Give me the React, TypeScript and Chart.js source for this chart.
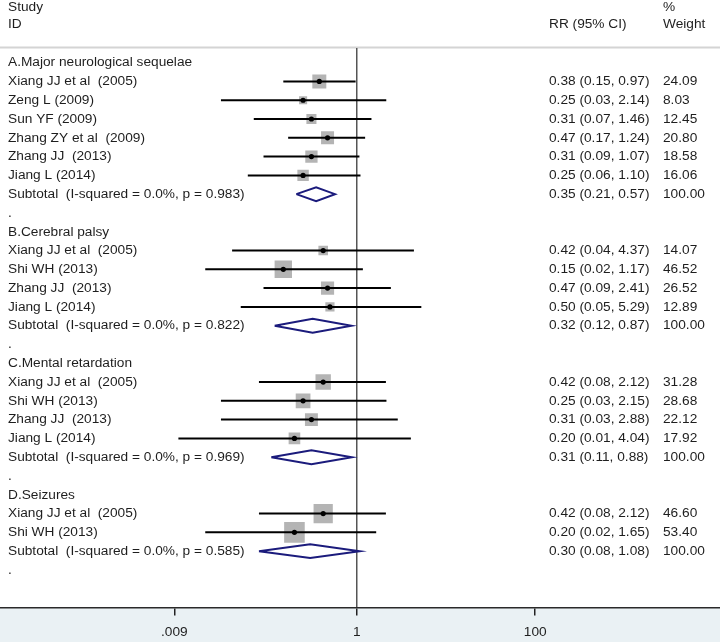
import React, { useEffect, useRef } from "react";
import { Chart, registerables } from "chart.js";
Chart.register(...registerables);

// ---------- data ----------
const rowLabels = [
  "A.Major neurological sequelae",
  "Xiang JJ et al  (2005)",
  "Zeng L (2009)",
  "Sun YF (2009)",
  "Zhang ZY et al  (2009)",
  "Zhang JJ  (2013)",
  "Jiang L (2014)",
  "Subtotal  (I-squared = 0.0%, p = 0.983)",
  ".",
  "B.Cerebral palsy",
  "Xiang JJ et al  (2005)",
  "Shi WH (2013)",
  "Zhang JJ  (2013)",
  "Jiang L (2014)",
  "Subtotal  (I-squared = 0.0%, p = 0.822)",
  ".",
  "C.Mental retardation",
  "Xiang JJ et al  (2005)",
  "Shi WH (2013)",
  "Zhang JJ  (2013)",
  "Jiang L (2014)",
  "Subtotal  (I-squared = 0.0%, p = 0.969)",
  ".",
  "D.Seizures",
  "Xiang JJ et al  (2005)",
  "Shi WH (2013)",
  "Subtotal  (I-squared = 0.0%, p = 0.585)",
  ".",
];

const rowKinds = [
  "group", "study", "study", "study", "study", "study", "study", "subtotal", "gap",
  "group", "study", "study", "study", "study", "subtotal", "gap",
  "group", "study", "study", "study", "study", "subtotal", "gap",
  "group", "study", "study", "subtotal", "gap",
];

const rrValues = [
  null, 0.38, 0.25, 0.31, 0.47, 0.31, 0.25, 0.35, null,
  null, 0.42, 0.15, 0.47, 0.5, 0.32, null,
  null, 0.42, 0.25, 0.31, 0.2, 0.31, null,
  null, 0.42, 0.2, 0.3, null,
];

const ciLower = [
  null, 0.15, 0.03, 0.07, 0.17, 0.09, 0.06, 0.21, null,
  null, 0.04, 0.02, 0.09, 0.05, 0.12, null,
  null, 0.08, 0.03, 0.03, 0.01, 0.11, null,
  null, 0.08, 0.02, 0.08, null,
];

const ciUpper = [
  null, 0.97, 2.14, 1.46, 1.24, 1.07, 1.1, 0.57, null,
  null, 4.37, 1.17, 2.41, 5.29, 0.87, null,
  null, 2.12, 2.15, 2.88, 4.04, 0.88, null,
  null, 2.12, 1.65, 1.08, null,
];

const weights = [
  null, 24.09, 8.03, 12.45, 20.8, 18.58, 16.06, 100.0, null,
  null, 14.07, 46.52, 26.52, 12.89, 100.0, null,
  null, 31.28, 28.68, 22.12, 17.92, 100.0, null,
  null, 46.6, 53.4, 100.0, null,
];

const axisTicks = [0.009, 1, 100];
const axisTickLabels = [".009", "1", "100"];

const headerStudy = ["Study", "ID"];
const headerRR = "RR (95% CI)";
const headerWeight = ["%", "Weight"];

// ---------- styles ----------
const FONT_FAMILY = '"Liberation Sans", Arial, sans-serif';
const FONT_SIZE = 13.7;
const FONT = `${FONT_SIZE}px ${FONT_FAMILY}`;
const TEXT_COLOR = "#1e1e1e";
const BOX_COLOR = "#b4b4b4";
const DIAMOND_COLOR = "#1b1b7c";
const BOX_SCALE_BY_GROUP = [2.85, 2.55, 2.75, 2.82];
const DIAMOND_HALF = 0.37; // in row units
const COL_LABEL_X = 8;
const COL_RR_X = 549;
const COL_W_X = 663;

// group index per row
const rowGroup: number[] = [];
{
  let g = -1;
  rowKinds.forEach((k) => {
    if (k === "group") g++;
    rowGroup.push(g);
  });
}

const studyIdx = rowKinds.map((k, i) => (k === "study" ? i : -1)).filter((i) => i >= 0);
const subIdx = rowKinds.map((k, i) => (k === "subtotal" ? i : -1)).filter((i) => i >= 0);

const fmt = (v: number) => v.toFixed(2);

const decorPlugin = {
  id: "forestDecor",
  beforeDraw(chart: any) {
    const { ctx, chartArea, width, height } = chart;
    ctx.save();
    ctx.fillStyle = "#ffffff";
    ctx.fillRect(0, 0, width, height);
    ctx.fillStyle = "#eaf1f4";
    ctx.fillRect(0, chartArea.bottom, width, height - chartArea.bottom);
    ctx.fillStyle = "#d4d4d4";
    ctx.fillRect(0, chartArea.top - 1.5, width, 2);
    ctx.restore();
  },
  afterDraw(chart: any) {
    const { ctx } = chart;
    const ys = chart.scales.y;
    ctx.save();
    ctx.font = FONT;
    ctx.fillStyle = TEXT_COLOR;
    ctx.textBaseline = "middle";
    ctx.textAlign = "left";
    ctx.fillText(headerStudy[0], COL_LABEL_X, 7);
    ctx.fillText(headerStudy[1], COL_LABEL_X, 24.5);
    ctx.fillText(headerRR, COL_RR_X, 24.5);
    ctx.fillText(headerWeight[0], COL_W_X, 7);
    ctx.fillText(headerWeight[1], COL_W_X, 24.5);
    rowLabels.forEach((lab, i) => {
      const y = ys.getPixelForValue(i);
      ctx.fillText(lab, COL_LABEL_X, y);
      const rr = rrValues[i];
      if (rr != null) {
        ctx.fillText(`${fmt(rr)} (${fmt(ciLower[i] as number)}, ${fmt(ciUpper[i] as number)})`, COL_RR_X, y);
        ctx.fillText(fmt(weights[i] as number), COL_W_X, y);
      }
    });
    ctx.restore();
  },
};

export default function App() {
  const ref = useRef<HTMLCanvasElement>(null);
  useEffect(() => {
    document.body.style.margin = "0";
    const datasets: any[] = [];
    // CI lines
    studyIdx.forEach((i) => {
      datasets.push({
        type: "line",
        data: [
          { x: ciLower[i], y: i },
          { x: ciUpper[i], y: i },
        ],
        borderColor: "#000",
        borderWidth: 2,
        pointRadius: 0,
        fill: false,
        order: 2,
      });
    });
    // boxes
    datasets.push({
      type: "scatter",
      data: studyIdx.map((i) => ({ x: rrValues[i], y: i })),
      pointStyle: "rect",
      pointRadius: studyIdx.map(
        (i) => (BOX_SCALE_BY_GROUP[rowGroup[i]] * Math.sqrt(weights[i] as number)) / (2 * Math.SQRT1_2)
      ),
      backgroundColor: BOX_COLOR,
      borderWidth: 0,
      order: 3,
    });
    // center dots
    datasets.push({
      type: "scatter",
      data: studyIdx.map((i) => ({ x: rrValues[i], y: i })),
      pointStyle: "circle",
      pointRadius: 2.6,
      backgroundColor: "#000",
      borderWidth: 0,
      order: 1,
    });
    // diamonds
    subIdx.forEach((i) => {
      datasets.push({
        type: "line",
        data: [
          { x: ciLower[i], y: i },
          { x: rrValues[i], y: i - DIAMOND_HALF },
          { x: ciUpper[i], y: i },
          { x: rrValues[i], y: i + DIAMOND_HALF },
          { x: ciLower[i], y: i },
        ],
        borderColor: DIAMOND_COLOR,
        borderWidth: 2,
        borderJoinStyle: "miter",
        pointRadius: 0,
        fill: false,
        tension: 0,
        order: 1,
      });
    });

    const chart = new Chart(ref.current as HTMLCanvasElement, {
      type: "scatter",
      data: { datasets },
      plugins: [decorPlugin],
      options: {
        animation: false,
        responsive: false,
        events: [],
        layout: { autoPadding: false, padding: { top: 48, left: 0, right: 0, bottom: 0 } },
        plugins: { legend: { display: false }, tooltip: { enabled: false } },
        scales: {
          x: {
            type: "logarithmic",
            position: "bottom",
            min: 1e-4,
            max: 11800,
            afterBuildTicks: (s: any) => {
              s.ticks = axisTicks.map((v) => ({ value: v }));
            },
            afterFit: (s: any) => {
              s.height = 34.5;
              s.paddingLeft = 0;
              s.paddingRight = 0;
            },
            ticks: {
              autoSkip: false,
              maxRotation: 0,
              padding: 9,
              color: TEXT_COLOR,
              font: { family: FONT_FAMILY, size: FONT_SIZE },
              callback: (_v: any, idx: number) => axisTickLabels[idx],
            },
            grid: {
              color: (c: any) => (c.tick && c.tick.value === 1 ? "#555555" : "rgba(0,0,0,0)"),
              lineWidth: 1.5,
              tickColor: "#222",
              tickWidth: 1.5,
              tickLength: 8,
              drawTicks: true,
            },
            border: { display: true, color: "#2a2a2a", width: 1.5 },
          },
          y: {
            type: "linear",
            reverse: true,
            min: -0.78,
            max: 29.0,
            display: false,
          },
        },
      } as any,
    });
    return () => chart.destroy();
  }, []);
  return (
    <div style={{ width: 720, height: 642 }}>
      <canvas ref={ref} width={720} height={642} style={{ display: "block" }} />
    </div>
  );
}
